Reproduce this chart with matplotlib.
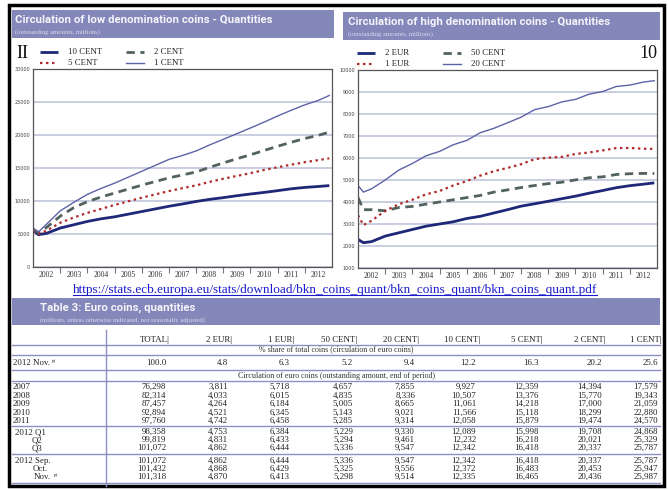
import matplotlib
matplotlib.use('Agg')
import matplotlib.pyplot as plt
import matplotlib.patches as mpatches

W, H = 669, 490

# time axis (decimal years)
years = [2002.0, 2002.2, 2002.5, 2003.0, 2003.5, 2004.0, 2004.5, 2005.0, 2005.5,
         2006.0, 2006.5, 2007.0, 2007.5, 2008.0, 2008.5, 2009.0, 2009.5, 2010.0,
         2010.5, 2011.0, 2011.5, 2012.0, 2012.5, 2012.9]

# low denomination coins (millions)
cent10 = [5600, 4900, 5100, 5900, 6400, 6900, 7300, 7600, 8000, 8400, 8800, 9200,
          9550, 9927, 10250, 10507, 10800, 11061, 11300, 11566, 11850, 12058, 12200, 12335]
cent5 = [5500, 5000, 5500, 6700, 7500, 8200, 8800, 9400, 9950, 10500, 11000, 11500,
         11950, 12359, 12900, 13376, 13800, 14218, 14700, 15118, 15500, 15879, 16200, 16465]
cent2 = [5700, 5200, 6000, 7700, 9000, 9900, 10600, 11200, 11800, 12400, 12950, 13500,
         13950, 14394, 15100, 15770, 16400, 17000, 17650, 18299, 18900, 19474, 19950, 20436]
cent1 = [5900, 5300, 6500, 8500, 9800, 11000, 11900, 12700, 13600, 14500, 15400, 16300,
         16900, 17579, 18500, 19343, 20200, 21059, 21950, 22880, 23750, 24570, 25250, 25987]

# high denomination coins (millions)
eur2 = [2300, 2150, 2200, 2450, 2600, 2750, 2900, 3000, 3100, 3250, 3350, 3500,
        3650, 3811, 3920, 4033, 4150, 4264, 4400, 4521, 4650, 4742, 4810, 4870]
eur1 = [3400, 2950, 3150, 3600, 3900, 4100, 4350, 4500, 4750, 4950, 5200, 5400,
        5550, 5718, 5950, 6015, 6050, 6184, 6250, 6345, 6450, 6458, 6420, 6413]
cent50 = [4200, 3650, 3650, 3600, 3750, 3800, 3900, 4000, 4100, 4200, 4300, 4450,
          4550, 4657, 4750, 4835, 4900, 5005, 5100, 5143, 5250, 5285, 5300, 5298]
cent20 = [4750, 4450, 4600, 5000, 5450, 5750, 6100, 6300, 6600, 6800, 7150, 7350,
          7600, 7855, 8200, 8336, 8550, 8665, 8900, 9021, 9250, 9314, 9450, 9514]

year_labels = [str(y) for y in range(2002, 2013)]

# table 3
tab_cols = ['TOTAL', '2 EUR', '1 EUR', '50 CENT', '20 CENT', '10 CENT', '5 CENT', '2 CENT', '1 CENT']
share_nov = ['100.0', '4.8', '6.3', '5.2', '9.4', '12.2', '16.3', '20.2', '25.6']
row_labels = ['2007', '2008', '2009', '2010', '2011', '2012 Q1', 'Q2', 'Q3', '2012 Sep.', 'Oct.', 'Nov.']
row_values = [
    ['76,298', '3,811', '5,718', '4,657', '7,855', '9,927', '12,359', '14,394', '17,579'],
    ['82,314', '4,033', '6,015', '4,835', '8,336', '10,507', '13,376', '15,770', '19,343'],
    ['87,457', '4,264', '6,184', '5,005', '8,665', '11,061', '14,218', '17,000', '21,059'],
    ['92,894', '4,521', '6,345', '5,143', '9,021', '11,566', '15,118', '18,299', '22,880'],
    ['97,760', '4,742', '6,458', '5,285', '9,314', '12,058', '15,879', '19,474', '24,570'],
    ['98,358', '4,753', '6,384', '5,229', '9,330', '12,089', '15,998', '19,708', '24,868'],
    ['99,819', '4,831', '6,433', '5,294', '9,461', '12,232', '16,218', '20,021', '25,329'],
    ['101,072', '4,862', '6,444', '5,336', '9,547', '12,342', '16,418', '20,337', '25,787'],
    ['101,072', '4,862', '6,444', '5,336', '9,547', '12,342', '16,418', '20,337', '25,787'],
    ['101,432', '4,868', '6,429', '5,325', '9,556', '12,372', '16,483', '20,453', '25,947'],
    ['101,318', '4,870', '6,413', '5,298', '9,514', '12,335', '16,465', '20,436', '25,987'],
]

BAND = '#8387B9'
RULE = '#8A90C0'
NAVY = '#1E2878'
RED = '#B02A2A'
DASH = '#52625F'
THIN = '#5C63A6'
SERIF = ['Liberation Serif', 'DejaVu Serif']
HEAD = ['Roboto', 'DejaVu Sans']

styles = {
    'solid': dict(color=NAVY, lw=2.0, solid_capstyle='butt'),
    'dot': dict(color=RED, lw=1.6, linestyle=(0, (1.1, 1.6))),
    'dash': dict(color=DASH, lw=2.0, linestyle=(0, (3, 2))),
    'thin': dict(color=THIN, lw=1.0),
}

fig = plt.figure(figsize=(W / 100, H / 100), dpi=100)
bg = fig.add_axes([0, 0, 1, 1])
bg.set_xlim(0, W)
bg.set_ylim(H, 0)
bg.axis('off')


def px_axes(l, t, r, b):
    return fig.add_axes([l / W, 1 - b / H, (r - l) / W, (b - t) / H])


# header bands
def band(x0, x1, y0, y1, title, sub, indent=3):
    bg.add_patch(mpatches.Rectangle((x0, y0), x1 - x0, y1 - y0, color=BAND, lw=0))
    bg.text(x0 + indent, y0 + 10, title, color='#F4F4FA', fontsize=8.2, fontweight='bold',
            family=HEAD, va='center')
    bg.text(x0 + indent, y0 + 22, sub, color='#DADCEE', fontsize=4.8, family=SERIF, va='center')


band(12, 334, 10, 38, 'Circulation of low denomination coins - Quantities',
     '(outstanding amounts, millions)')
band(343, 660, 12, 40, 'Circulation of high denomination coins - Quantities',
     '(outstanding amounts, millions)', indent=5)
band(12, 660, 298, 325, 'Table 3: Euro coins, quantities',
     '(millions, unless otherwise indicated, not seasonally adjusted)', indent=28)


def legend(x, y, names):
    keys = ['solid', 'dash', 'dot', 'thin']
    pos = [(x, y), (x + 86, y), (x, y + 11), (x + 86, y + 11)]
    for k, name, (lx, ly) in zip(keys, names, pos):
        bg.plot([lx, lx + 18], [ly, ly], **styles[k])
        bg.text(lx + 28, ly, name, fontsize=6.3, family=SERIF, va='center', color='#222222')


legend(40, 52, ['10 CENT', '2 CENT', '5 CENT', '1 CENT'])
legend(357, 53, ['2 EUR', '50 CENT', '1 EUR', '20 CENT'])
bg.text(16, 53, 'II', fontsize=13, family=SERIF, va='center', color='#111111')
bg.text(657, 53, '10', fontsize=13, family=SERIF, va='center', ha='right', color='#111111')


def chart(ax, series, ylim, ystep):
    keys = ['solid', 'dash', 'dot', 'thin']
    for k, s in zip(keys, series):
        ax.plot(years, s, **styles[k])
    ax.set_xlim(2002, 2013)
    ax.set_ylim(*ylim)
    ax.set_yticks(range(ylim[0], ylim[1] + 1, ystep))
    ax.yaxis.grid(True, color='#C5C9DE', lw=1.3)
    ax.set_axisbelow(True)
    ax.tick_params(axis='y', labelsize=3.5, length=0, pad=2, labelcolor='#444444')
    ax.set_xticks(range(2003, 2013))
    ax.set_xticklabels([])
    ax.set_xticks([y + 0.5 for y in range(2002, 2013)], minor=True)
    ax.set_xticklabels(year_labels, minor=True, fontsize=5.5, family=SERIF, color='#333333')
    ax.tick_params(axis='x', which='major', length=4, color='#777777', direction='out')
    ax.tick_params(axis='x', which='minor', length=0, pad=3)
    for sp in ax.spines.values():
        sp.set_color('#555555')
        sp.set_linewidth(0.9)


ax1 = px_axes(33, 69, 332, 267)
chart(ax1, [cent10, cent2, cent5, cent1], (0, 30000), 5000)
ax2 = px_axes(358, 70, 657, 268)
chart(ax2, [eur2, cent50, eur1, cent20], (1000, 10000), 1000)

# source link
url = bg.text(335, 290, 'https://stats.ecb.europa.eu/stats/download/bkn_coins_quant/bkn_coins_quant/bkn_coins_quant.pdf',
              fontsize=9.5, family=SERIF, color='#1A1ACC', ha='center', va='center')
fig.canvas.draw()
bb = url.get_window_extent().transformed(bg.transData.inverted())
bg.plot([bb.x0, bb.x1], [bb.y0 - 1, bb.y0 - 1], color='#1A1ACC', lw=0.8)

# table
FS = 6.4
col_right = [166, 228, 290, 353, 415, 476, 539, 602, 658]
for name, xr in zip(tab_cols, col_right):
    bg.text(xr + 4, 340, name + '|', fontsize=FS, family=SERIF, ha='right', va='center', color='#222222')
bg.text(336, 349.5, '% share of total coins (circulation of euro coins)', fontsize=5.8,
        family=SERIF, ha='center', va='center', color='#333333')
bg.text(13, 363, '2012 Nov.', fontsize=FS, family=SERIF, va='center', color='#222222')
bg.text(52, 361, 'p)', fontsize=3.5, family=SERIF, va='center', color='#222222')
for v, xr in zip(share_nov, col_right):
    bg.text(xr, 363, v, fontsize=FS, family=SERIF, ha='right', va='center', color='#222222')
bg.text(336, 376, 'Circulation of euro coins (outstanding amount, end of period)', fontsize=5.8,
        family=SERIF, ha='center', va='center', color='#333333')

row_y = [387, 395.5, 404, 412.5, 421, 432, 440, 448, 461, 469, 477]
row_x = [13, 13, 13, 13, 13, 15, 32, 32, 15, 33, 34]
for lab, vals, ry, rx in zip(row_labels, row_values, row_y, row_x):
    bg.text(rx, ry, lab, fontsize=FS, family=SERIF, va='center', color='#222222')
    for v, xr in zip(vals, col_right):
        bg.text(xr, ry, v, fontsize=FS, family=SERIF, ha='right', va='center', color='#222222')
bg.text(54, 475, 'p)', fontsize=3.5, family=SERIF, va='center', color='#222222')

for ly in [345, 355, 370, 381, 426, 454, 483]:
    bg.plot([12, 660], [ly, ly], color=RULE, lw=1.0)
bg.plot([106, 106], [330, 486], color=RULE, lw=1.0)

# outer frame
bg.add_patch(mpatches.Rectangle((9, 5), 655, 481, fill=False, ec='black', lw=2.5))

fig.savefig('out.png', dpi=100)
